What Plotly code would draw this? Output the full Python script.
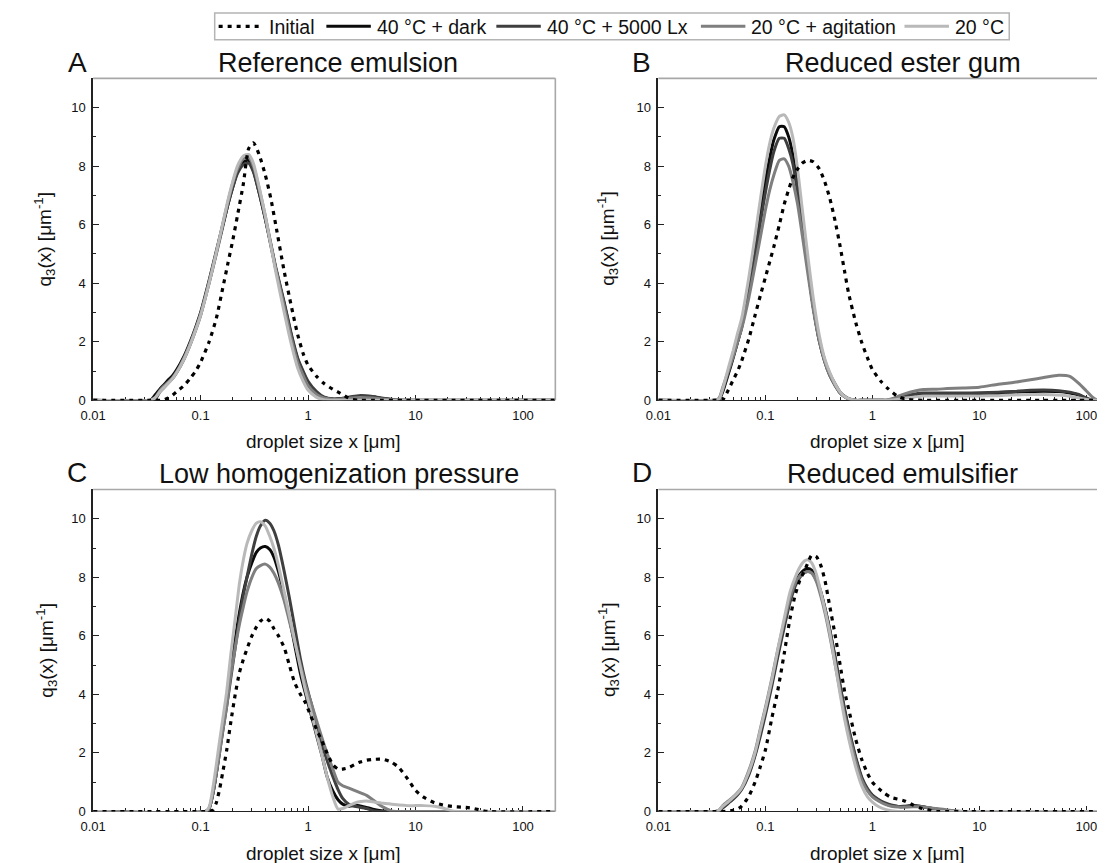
import math
import plotly.graph_objects as go

series_names = ["Initial", "40 °C + dark", "40 °C + 5000 Lx", "20 °C + agitation", "20 °C"]
panel_letters = ["A", "B", "C", "D"]
panel_titles = ["Reference emulsion", "Reduced ester gum", "Low homogenization pressure", "Reduced emulsifier"]
x_tick_vals = [0.01, 0.1, 1, 10, 100]
x_tick_text = ["0.01", "0.1", "1", "10", "100"]
y_tick_vals = [0, 2, 4, 6, 8, 10]
y_minor_vals = [1, 3, 5, 7, 9]
x_title = "droplet size x [μm]"
y_title = "q<sub>3</sub>(x) [μm<sup>-1</sup>]"

# ---------------- Panel A: Reference emulsion ----------------
x_a = [0.01, 0.034, 0.038, 0.042, 0.046, 0.05, 0.055, 0.06, 0.07, 0.08, 0.09, 0.1, 0.12, 0.14, 0.16, 0.18, 0.2,
       0.22, 0.25, 0.28, 0.31, 0.35, 0.4, 0.45, 0.5, 0.6, 0.7, 0.8, 0.9, 1.0, 1.2, 1.4, 1.7, 2.0, 2.5, 3.0, 4.0,
       5.0, 6.5, 8.0, 200]
a_initial = [0, 0, 0, 0, 0.02, 0.08, 0.18, 0.3, 0.5, 0.75, 1.0, 1.3, 2.0, 2.8, 3.8, 4.7, 5.5, 6.3, 7.4, 8.6, 8.8,
             8.4, 7.7, 6.9, 6.0, 4.4, 3.2, 2.25, 1.6, 1.2, 0.82, 0.58, 0.38, 0.24, 0.04, 0, 0, 0, 0, 0, 0]
a_dark = [0, 0, 0.2, 0.4, 0.55, 0.7, 0.85, 1.05, 1.5, 2.0, 2.5, 3.0, 4.1, 5.1, 5.95, 6.7, 7.3, 7.8, 8.15, 8.2, 7.85,
          7.1, 6.2, 5.3, 4.5, 3.3, 2.2, 1.4, 0.95, 0.6, 0.25, 0.1, 0.04, 0.05, 0.1, 0.14, 0.12, 0.06, 0.01, 0, 0]
a_lux = [0, 0, 0.05, 0.3, 0.45, 0.6, 0.75, 0.95, 1.4, 1.9, 2.4, 2.9, 4.0, 5.0, 5.9, 6.7, 7.3, 7.75, 8.05, 8.1, 7.8,
         7.1, 6.2, 5.35, 4.55, 3.35, 2.25, 1.45, 1.0, 0.65, 0.3, 0.12, 0.05, 0.06, 0.12, 0.16, 0.13, 0.07, 0.02, 0, 0]
a_agit = [0, 0, 0.1, 0.35, 0.5, 0.62, 0.78, 0.98, 1.45, 1.95, 2.45, 2.95, 4.05, 5.05, 6.0, 6.8, 7.45, 7.9, 8.25, 8.3,
          8.0, 7.25, 6.3, 5.35, 4.5, 3.2, 2.1, 1.3, 0.85, 0.5, 0.2, 0.08, 0.03, 0.04, 0.08, 0.1, 0.08, 0.04, 0, 0, 0]
a_20 = [0, 0, 0.1, 0.3, 0.45, 0.58, 0.75, 0.95, 1.4, 1.9, 2.4, 2.9, 4.0, 5.05, 6.0, 6.85, 7.5, 8.0, 8.35, 8.4, 8.1,
        7.3, 6.3, 5.3, 4.4, 3.0, 1.9, 1.1, 0.65, 0.35, 0.1, 0.02, 0, 0, 0, 0, 0, 0, 0, 0, 0]

# ---------------- Panel B: Reduced ester gum ----------------
x_b = [0.01, 0.034, 0.037, 0.04, 0.045, 0.05, 0.055, 0.06, 0.07, 0.08, 0.09, 0.1, 0.11, 0.12, 0.135, 0.15, 0.165,
       0.18, 0.2, 0.22, 0.25, 0.28, 0.32, 0.36, 0.4, 0.45, 0.5, 0.55, 0.6, 0.7, 0.8, 0.9, 1.0, 1.2, 1.4, 1.7, 2.0,
       2.5, 3.0, 4.0, 5.0, 7.0, 10, 15, 20, 30, 40, 55, 70, 85, 100, 115, 130, 200]
b_initial = [0, 0, 0, 0.02, 0.35, 0.7, 1.0, 1.35, 2.1, 2.9, 3.6, 4.2, 4.75, 5.25, 6.0, 6.7, 7.2, 7.6, 7.9, 8.1, 8.2,
             8.15, 7.9, 7.45, 6.9, 6.1, 5.25, 4.4, 3.65, 2.65, 1.95, 1.45, 1.05, 0.65, 0.4, 0.15, 0.05, 0.01,
             0, 0, 0, 0, 0, 0, 0, 0, 0, 0, 0, 0, 0, 0, 0, 0]
b_dark = [0, 0, 0.03, 0.3, 0.9, 1.45, 2.0, 2.5, 3.8, 5.1, 6.4, 7.5, 8.3, 8.9, 9.35, 9.35, 9.0, 8.4, 7.3, 6.1, 4.5,
          3.2, 2.0, 1.3, 0.85, 0.5, 0.25, 0.12, 0.05, 0, 0, 0, 0, 0, 0, 0.05, 0.12, 0.18, 0.2, 0.2, 0.2, 0.2, 0.21,
          0.23, 0.27, 0.3, 0.31, 0.3, 0.25, 0.18, 0.06, 0, 0, 0]
b_lux = [0, 0, 0.05, 0.35, 0.95, 1.5, 2.0, 2.5, 3.7, 4.9, 6.1, 7.1, 7.9, 8.5, 8.95, 8.95, 8.6, 8.1, 7.1, 6.0, 4.5,
         3.2, 2.05, 1.35, 0.9, 0.55, 0.28, 0.14, 0.06, 0, 0, 0, 0, 0, 0, 0.06, 0.15, 0.22, 0.25, 0.25, 0.25, 0.25,
         0.26, 0.28, 0.3, 0.34, 0.35, 0.33, 0.28, 0.2, 0.08, 0, 0, 0]
b_agit = [0, 0, 0.08, 0.45, 1.0, 1.5, 2.0, 2.45, 3.5, 4.6, 5.6, 6.5, 7.2, 7.7, 8.2, 8.25, 8.0, 7.5, 6.7, 5.7, 4.3,
          3.1, 2.0, 1.3, 0.85, 0.5, 0.25, 0.12, 0.05, 0, 0, 0, 0, 0, 0.02, 0.12, 0.22, 0.32, 0.37, 0.38, 0.4, 0.42,
          0.45, 0.55, 0.6, 0.7, 0.78, 0.86, 0.82, 0.58, 0.32, 0.1, 0, 0]
b_20 = [0, 0, 0.05, 0.4, 1.1, 1.7, 2.3, 2.8, 4.2, 5.6, 6.9, 8.0, 8.8, 9.3, 9.7, 9.75, 9.5, 9.0, 7.9, 6.6, 4.9, 3.5,
        2.2, 1.4, 0.95, 0.55, 0.28, 0.13, 0.06, 0, 0, 0, 0, 0, 0, 0.03, 0.08, 0.12, 0.15, 0.15, 0.15, 0.15, 0.15,
        0.16, 0.18, 0.2, 0.2, 0.18, 0.14, 0.08, 0.03, 0, 0, 0]

# ---------------- Panel C: Low homogenization pressure ----------------
x_c = [0.01, 0.11, 0.12, 0.13, 0.14, 0.15, 0.16, 0.175, 0.19, 0.21, 0.23, 0.25, 0.27, 0.3, 0.33, 0.36, 0.4, 0.44,
       0.48, 0.53, 0.6, 0.67, 0.75, 0.85, 0.95, 1.05, 1.2, 1.35, 1.5, 1.7, 1.9, 2.1, 2.4, 2.7, 3.0, 3.5, 4.0, 5.0,
       6.0, 7.0, 8.5, 10, 12, 15, 18, 22, 27, 33, 40, 47, 200]
c_initial = [0, 0, 0, 0.05, 0.3, 0.75, 1.3, 2.1, 3.0, 4.0, 4.75, 5.2, 5.55, 6.0, 6.3, 6.5, 6.6, 6.5, 6.25, 6.0, 5.6,
             5.0, 4.4, 4.0, 3.7, 3.3, 2.8, 2.4, 2.0, 1.6, 1.45, 1.45, 1.5, 1.6, 1.68, 1.75, 1.78, 1.78, 1.68, 1.5,
             1.1, 0.72, 0.48, 0.3, 0.22, 0.17, 0.15, 0.12, 0.05, 0, 0]
c_dark = [0, 0, 0.1, 0.6, 1.3, 2.1, 2.8, 3.8, 4.8, 5.9, 6.8, 7.5, 8.0, 8.5, 8.85, 9.0, 9.05, 8.95, 8.7, 8.2, 7.4,
          6.6, 5.7, 4.7, 4.0, 3.4, 2.6, 1.9, 1.2, 0.7, 0.4, 0.25, 0.18, 0.2, 0.2, 0.14, 0.08, 0.02,
          0, 0, 0, 0, 0, 0, 0, 0, 0, 0, 0, 0, 0]
c_lux = [0, 0, 0.1, 0.6, 1.3, 2.0, 2.7, 3.6, 4.5, 5.6, 6.6, 7.4, 8.0, 8.8, 9.4, 9.75, 9.95, 9.85, 9.6, 9.1, 8.2,
         7.3, 6.3, 5.2, 4.4, 3.8, 3.0, 2.3, 1.75, 1.2, 0.75, 0.45, 0.25, 0.18, 0.15, 0.1, 0.03,
         0, 0, 0, 0, 0, 0, 0, 0, 0, 0, 0, 0, 0, 0]
c_agit = [0, 0, 0.1, 0.6, 1.3, 2.0, 2.7, 3.6, 4.6, 5.6, 6.4, 7.0, 7.5, 8.0, 8.3, 8.4, 8.45, 8.35, 8.15, 7.8, 7.2,
          6.5, 5.8, 5.0, 4.3, 3.8, 3.1, 2.5, 2.0, 1.45, 1.0, 0.88, 0.8, 0.72, 0.65, 0.55, 0.4, 0.15, 0.02,
          0, 0, 0, 0, 0, 0, 0, 0, 0, 0, 0, 0]
c_20 = [0, 0, 0.15, 0.8, 1.6, 2.4, 3.1, 4.1, 5.3, 6.6, 7.8, 8.6, 9.15, 9.6, 9.85, 9.9, 9.75, 9.4, 9.0, 8.4, 7.5,
        6.7, 5.85, 4.9, 4.1, 3.5, 2.65, 1.9, 1.2, 0.5, 0.08, 0.1, 0.2, 0.28, 0.33, 0.36, 0.33, 0.28, 0.25, 0.22,
        0.2, 0.2, 0.2, 0.18, 0.12, 0.02, 0, 0, 0, 0, 0]

# ---------------- Panel D: Reduced emulsifier ----------------
x_d = [0.01, 0.034, 0.037, 0.04, 0.045, 0.05, 0.055, 0.06, 0.07, 0.08, 0.09, 0.1, 0.115, 0.13, 0.15, 0.17, 0.19,
       0.21, 0.23, 0.25, 0.27, 0.3, 0.33, 0.36, 0.4, 0.45, 0.5, 0.55, 0.6, 0.7, 0.8, 0.9, 1.0, 1.15, 1.3, 1.5, 1.75,
       2.0, 2.4, 2.8, 3.3, 4.0, 5.0, 6.5, 8.0, 200]
d_initial = [0, 0, 0, 0, 0.01, 0.04, 0.08, 0.18, 0.52, 1.0, 1.55, 2.1, 3.2, 4.1, 5.4, 6.6, 7.4, 7.9, 8.2, 8.5,
             8.75, 8.7, 8.4, 7.9, 7.0, 6.0, 5.0, 4.1, 3.5, 2.45, 1.75, 1.3, 1.0, 0.78, 0.62, 0.48, 0.42, 0.36,
             0.22, 0.12, 0.06, 0, 0, 0, 0, 0]
d_dark = [0, 0, 0.03, 0.15, 0.3, 0.45, 0.6, 0.78, 1.3, 1.95, 2.7, 3.4, 4.4, 5.35, 6.4, 7.25, 7.8, 8.1, 8.25, 8.3,
          8.25, 7.95, 7.5, 6.95, 6.2, 5.2, 4.25, 3.45, 2.8, 1.8, 1.1, 0.75, 0.55, 0.38, 0.28, 0.2, 0.17, 0.18, 0.2,
          0.18, 0.13, 0.07, 0.02, 0, 0, 0]
d_lux = [0, 0, 0.02, 0.12, 0.28, 0.42, 0.57, 0.75, 1.25, 1.9, 2.6, 3.3, 4.3, 5.25, 6.3, 7.15, 7.7, 8.0, 8.15, 8.2,
         8.15, 7.9, 7.45, 6.95, 6.2, 5.25, 4.3, 3.5, 2.85, 1.85, 1.15, 0.78, 0.56, 0.4, 0.3, 0.22, 0.17, 0.16, 0.18,
         0.17, 0.13, 0.08, 0.03, 0, 0, 0]
d_agit = [0, 0, 0.05, 0.2, 0.36, 0.5, 0.65, 0.82, 1.4, 2.05, 2.85, 3.55, 4.55, 5.5, 6.5, 7.3, 7.8, 8.05, 8.15, 8.2,
          8.15, 7.85, 7.35, 6.8, 6.0, 5.0, 4.1, 3.3, 2.7, 1.7, 1.05, 0.7, 0.5, 0.35, 0.25, 0.18, 0.15, 0.15, 0.16,
          0.16, 0.14, 0.1, 0.05, 0.01, 0, 0]
d_20 = [0, 0, 0.05, 0.18, 0.33, 0.48, 0.62, 0.8, 1.35, 2.0, 2.8, 3.5, 4.5, 5.5, 6.6, 7.5, 8.0, 8.35, 8.55, 8.6,
        8.5, 8.1, 7.5, 6.9, 6.1, 5.0, 4.0, 3.15, 2.5, 1.5, 0.85, 0.5, 0.32, 0.16, 0.08, 0.03, 0, 0, 0, 0, 0, 0, 0,
        0, 0, 0]

panels = [
    (x_a, [a_initial, a_dark, a_lux, a_agit, a_20]),
    (x_b, [b_initial, b_dark, b_lux, b_agit, b_20]),
    (x_c, [c_initial, c_dark, c_lux, c_agit, c_20]),
    (x_d, [d_initial, d_dark, d_lux, d_agit, d_20]),
]

# ---------------- styling / layout ----------------
W, H = 1105, 863
FONT = "Liberation Sans, Arial, Helvetica, sans-serif"
colors = ["#000000", "#0a0a0a", "#3f3f3f", "#7f7f7f", "#b9b9b9"]
widths = [3.2, 3.0, 3.0, 3.0, 3.0]
DOT = "4px,5px"

# pixel boxes of plot areas: (left, right, top, bottom)
boxes = [(73, 540.7, 71, 396), (645, 1105, 71, 396), (73, 540.7, 486, 811), (645, 1105, 486, 811)]
x_ranges = [[-2, math.log10(200)], [-2, 2.249], [-2, math.log10(200)], [-2, 2.249]]

minor_x = [k * 10 ** e for e in range(-2, 3) for k in range(2, 10)]


def px(xp):
    return xp / W


def py(yp):
    return 1 - yp / H


fig = go.Figure()
draw_order = [1, 2, 3, 4, 0]
for p, (xs, ys_list) in enumerate(panels):
    xa = "x" if p == 0 else f"x{p + 1}"
    ya = "y" if p == 0 else f"y{p + 1}"
    for s in draw_order:
        line = dict(color=colors[s], width=widths[s], shape="spline", smoothing=0.6)
        if s == 0:
            line["dash"] = DOT
        fig.add_trace(go.Scatter(
            x=xs, y=ys_list[s], mode="lines", name=series_names[s], line=line,
            xaxis=xa, yaxis=ya, showlegend=False, hoverinfo="skip"))

layout = {}
shapes = []
annotations = []
for p, (l, r, t, b) in enumerate(boxes):
    xk = "xaxis" if p == 0 else f"xaxis{p + 1}"
    yk = "yaxis" if p == 0 else f"yaxis{p + 1}"
    xa = "x" if p == 0 else f"x{p + 1}"
    ya = "y" if p == 0 else f"y{p + 1}"
    layout[xk] = dict(
        domain=[px(l), min(px(r), 1.0)], anchor=ya, type="log", range=x_ranges[p],
        tickmode="array", tickvals=x_tick_vals, ticktext=x_tick_text,
        ticks="inside", ticklen=5, tickwidth=1.3, tickcolor="#222",
        showline=True, linecolor="#222", linewidth=1.4, mirror=False,
        showgrid=False, zeroline=False, layer="below traces",
        tickfont=dict(family=FONT, size=13, color="#111"), ticklabelstandoff=3,
        minor=dict(tickvals=minor_x, ticks="inside", ticklen=3, tickwidth=1.1, tickcolor="#222", showgrid=False),
    )
    layout[yk] = dict(
        domain=[py(b), py(t)], anchor=xa, range=[0, 11],
        tickmode="array", tickvals=y_tick_vals,
        ticks="inside", ticklen=6, tickwidth=1.3, tickcolor="#222",
        showline=True, linecolor="#222", linewidth=1.6, mirror=False,
        showgrid=False, zeroline=False, layer="below traces",
        tickfont=dict(family=FONT, size=13, color="#111"), ticklabelstandoff=3,
        minor=dict(tickvals=y_minor_vals, ticks="inside", ticklen=3, tickwidth=1.1, tickcolor="#222", showgrid=False),
    )
    shapes.append(dict(type="line", xref=f"{xa} domain", yref=f"{ya} domain", x0=0, x1=1, y0=1, y1=1,
                       line=dict(color="#a8a8a8", width=1.6)))
    if r < W - 2:
        shapes.append(dict(type="line", xref=f"{xa} domain", yref=f"{ya} domain", x0=1, x1=1, y0=0, y1=1,
                           line=dict(color="#a8a8a8", width=1.6)))

# text positions (pixels)
letter_pos = [(57, 55), (628, 55), (57, 469), (628, 469)]
title_pos = [(321, 56), (893, 56), (322, 470), (892, 470)]
xlab_pos = [(306, 438), (877, 438), (306, 853), (877, 853)]
ylab_pos = [(24, 233), (594, 233), (26, 648), (595, 648)]

for p in range(4):
    annotations.append(dict(text=panel_letters[p], x=px(letter_pos[p][0]), y=py(letter_pos[p][1]),
                            xref="paper", yref="paper", showarrow=False, xanchor="center", yanchor="middle",
                            font=dict(family=FONT, size=28, color="#111")))
    annotations.append(dict(text=panel_titles[p], x=px(title_pos[p][0]), y=py(title_pos[p][1]),
                            xref="paper", yref="paper", showarrow=False, xanchor="center", yanchor="middle",
                            font=dict(family=FONT, size=27, color="#111")))
    annotations.append(dict(text=x_title, x=px(xlab_pos[p][0]), y=py(xlab_pos[p][1]),
                            xref="paper", yref="paper", showarrow=False, xanchor="center", yanchor="middle",
                            font=dict(family=FONT, size=19, color="#111")))
    annotations.append(dict(text=y_title, x=px(ylab_pos[p][0]), y=py(ylab_pos[p][1]),
                            xref="paper", yref="paper", showarrow=False, xanchor="center", yanchor="middle",
                            textangle=-90, font=dict(family=FONT, size=19, color="#111")))

# ---------------- legend (drawn as a framed key across the top) ----------------
leg_box = (196, 5, 1000, 32)
leg_sample_x = [200, 309, 481, 688, 894]
leg_y = 18.5
shapes.append(dict(type="rect", xref="paper", yref="paper", x0=px(leg_box[0]), x1=px(leg_box[2]),
                   y0=py(leg_box[3]), y1=py(leg_box[1]), line=dict(color="#b4b4b4", width=1.5),
                   fillcolor="white", layer="below"))
for s in range(5):
    x0 = leg_sample_x[s]
    ln = dict(color=colors[s], width=widths[s])
    if s == 0:
        ln["dash"] = DOT
    shapes.append(dict(type="line", xref="paper", yref="paper", x0=px(x0), x1=px(x0 + 45),
                       y0=py(leg_y), y1=py(leg_y), line=ln))
    annotations.append(dict(text=series_names[s], x=px(x0 + 49), y=py(leg_y + 0.5), xref="paper", yref="paper",
                            showarrow=False, xanchor="left", yanchor="middle",
                            font=dict(family=FONT, size=19.5, color="#111")))

fig.update_layout(
    width=W, height=H, autosize=False,
    margin=dict(l=0, r=0, t=0, b=0),
    paper_bgcolor="white", plot_bgcolor="white",
    font=dict(family=FONT, color="#111"),
    showlegend=False,
    shapes=shapes, annotations=annotations,
    **layout,
)

fig.write_html("out.html")
